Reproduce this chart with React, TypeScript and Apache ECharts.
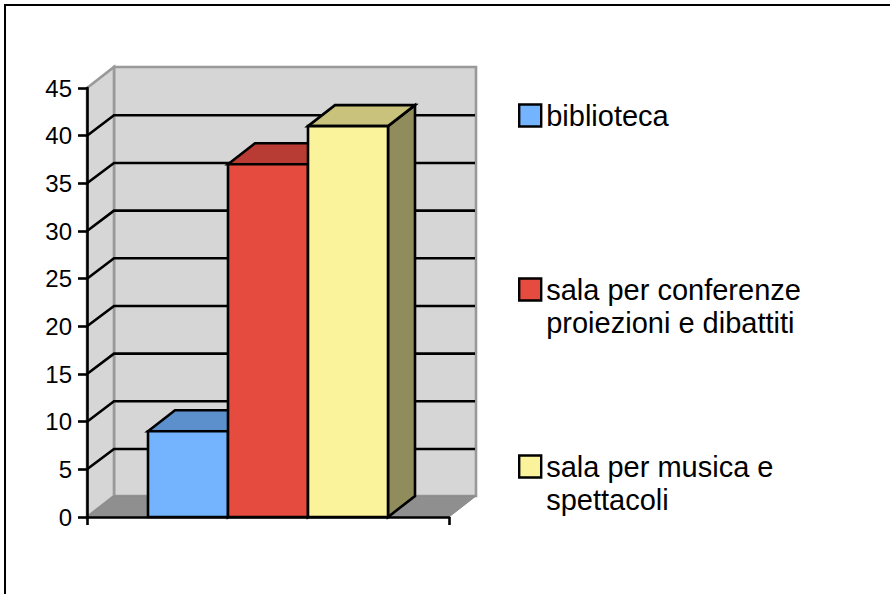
import React, { useEffect, useRef } from "react";
import * as echarts from "echarts";

const categories = [""];
const yTicks = [0, 5, 10, 15, 20, 25, 30, 35, 40, 45];
const seriesNames = [
  "biblioteca",
  "sala per conferenze\nproiezioni e dibattiti",
  "sala per musica e\nspettacoli",
];
const seriesValues = [9, 37, 41];
const frontColors = ["#74b4ff", "#e64b40", "#fbf39b"];
const topColors = ["#5c90cc", "#b83c33", "#c8c27c"];
const sideColors = ["#466c99", "#8a2d26", "#918c5b"];

const DX = 27;
const DY = 21;
const BAR_W = 80;
const FONT = '"Liberation Sans", Arial, Helvetica, sans-serif';
const BLACK = "#000000";
const LINE = 2.6;

function renderWalls(params: any, api: any) {
  const v = api.value(1);
  const [, y] = api.coord([0, v]);
  const cs = params.coordSys;
  const left = cs.x;
  const right = cs.x + cs.width;
  const top = cs.y;
  const bottom = cs.y + cs.height;
  const children: any[] = [];
  if (v === 0) {
    const wall = { fill: "#d6d6d6", stroke: "#999999", lineWidth: 2.6 };
    children.push({
      type: "polygon",
      shape: { points: [[left + DX, top - DY], [right + DX, top - DY], [right + DX, bottom - DY], [left + DX, bottom - DY]] },
      style: wall,
    });
    children.push({
      type: "polygon",
      shape: { points: [[left, top], [left + DX, top - DY], [left + DX, bottom - DY], [left, bottom]] },
      style: wall,
    });
    children.push({
      type: "polygon",
      shape: { points: [[left, bottom], [left + DX, bottom - DY], [right + DX, bottom - DY], [right, bottom]] },
      style: { fill: "#8f8f8f", stroke: "#8a8a8a", lineWidth: 1 },
    });
  } else if (v < 45) {
    children.push({
      type: "polyline",
      shape: { points: [[left, y], [left + DX, y - DY + 0.6], [right + DX - 1, y - DY + 0.6]] },
      style: { fill: "none", stroke: BLACK, lineWidth: LINE },
    });
  }
  return { type: "group", children };
}

function makeBarRenderer(i: number) {
  return (_params: any, api: any) => {
    const [cx, yTop] = api.coord([api.value(0), api.value(1)]);
    const [, yBase] = api.coord([api.value(0), 0]);
    const x1 = cx + (i - 1.5) * BAR_W;
    const x2 = x1 + BAR_W;
    const stroke = { stroke: BLACK, lineWidth: LINE, lineJoin: "miter" };
    return {
      type: "group",
      children: [
        {
          type: "polygon",
          shape: { points: [[x2, yTop], [x2 + DX, yTop - DY], [x2 + DX, yBase - DY], [x2, yBase]] },
          style: { fill: sideColors[i], ...stroke },
        },
        {
          type: "polygon",
          shape: { points: [[x1, yTop], [x1 + DX, yTop - DY], [x2 + DX, yTop - DY], [x2, yTop]] },
          style: { fill: topColors[i], ...stroke },
        },
        {
          type: "polygon",
          shape: { points: [[x1, yTop], [x2, yTop], [x2, yBase], [x1, yBase]] },
          style: { fill: frontColors[i], ...stroke },
        },
      ],
    };
  };
}

const legendTops = [99, 240, 417];

export default function App() {
  const ref = useRef<HTMLDivElement>(null);
  useEffect(() => {
    const chart = echarts.init(ref.current!, undefined, { renderer: "svg" });
    chart.setOption({
      animation: false,
      backgroundColor: "#ffffff",
      grid: { left: 87, right: 441, top: 88, bottom: 77 },
      xAxis: {
        type: "category",
        data: categories,
        z: 10,
        axisLine: { lineStyle: { color: BLACK, width: LINE } },
        axisTick: { show: true, length: 8, lineStyle: { color: BLACK, width: LINE } },
        axisLabel: { show: false },
      },
      yAxis: {
        type: "value",
        min: 0,
        max: 45,
        interval: 5,
        z: 10,
        splitLine: { show: false },
        axisLine: { show: true, lineStyle: { color: BLACK, width: LINE } },
        axisTick: { show: true, length: 9, lineStyle: { color: BLACK, width: LINE } },
        axisLabel: { color: BLACK, fontFamily: FONT, fontSize: 24, margin: 15 },
      },
      legend: seriesNames.map((name, i) => ({
        data: [name],
        orient: "vertical",
        left: 518,
        top: legendTops[i],
        padding: 0,
        itemWidth: 22,
        itemHeight: 22,
        icon: "rect",
        itemStyle: { borderColor: BLACK, borderWidth: 2.4 },
        selectedMode: false,
        formatter: (n: string) => (n.includes("\n") ? " \n" + n : n),
        textStyle: {
          color: BLACK,
          fontFamily: FONT,
          fontSize: 29,
          lineHeight: 33,
        },
      })),
      graphic: [
        {
          type: "polyline",
          shape: { points: [[5, 594], [5, 5], [890, 5]] },
          style: { fill: "none", stroke: BLACK, lineWidth: 2 },
        },
      ],
      series: [
        {
          type: "custom",
          name: "pareti",
          silent: true,
          renderItem: renderWalls,
          data: yTicks.map((v) => [0, v]),
          z: 1,
        },
        ...seriesNames.map((name, i) => ({
          type: "custom",
          name,
          renderItem: makeBarRenderer(i),
          itemStyle: { color: frontColors[i] },
          data: [[0, seriesValues[i]]],
          z: 2 + i,
        })),
      ],
    });
    return () => chart.dispose();
  }, []);
  return <div ref={ref} style={{ position: "fixed", left: 0, top: 0, width: 890, height: 594 }} />;
}
